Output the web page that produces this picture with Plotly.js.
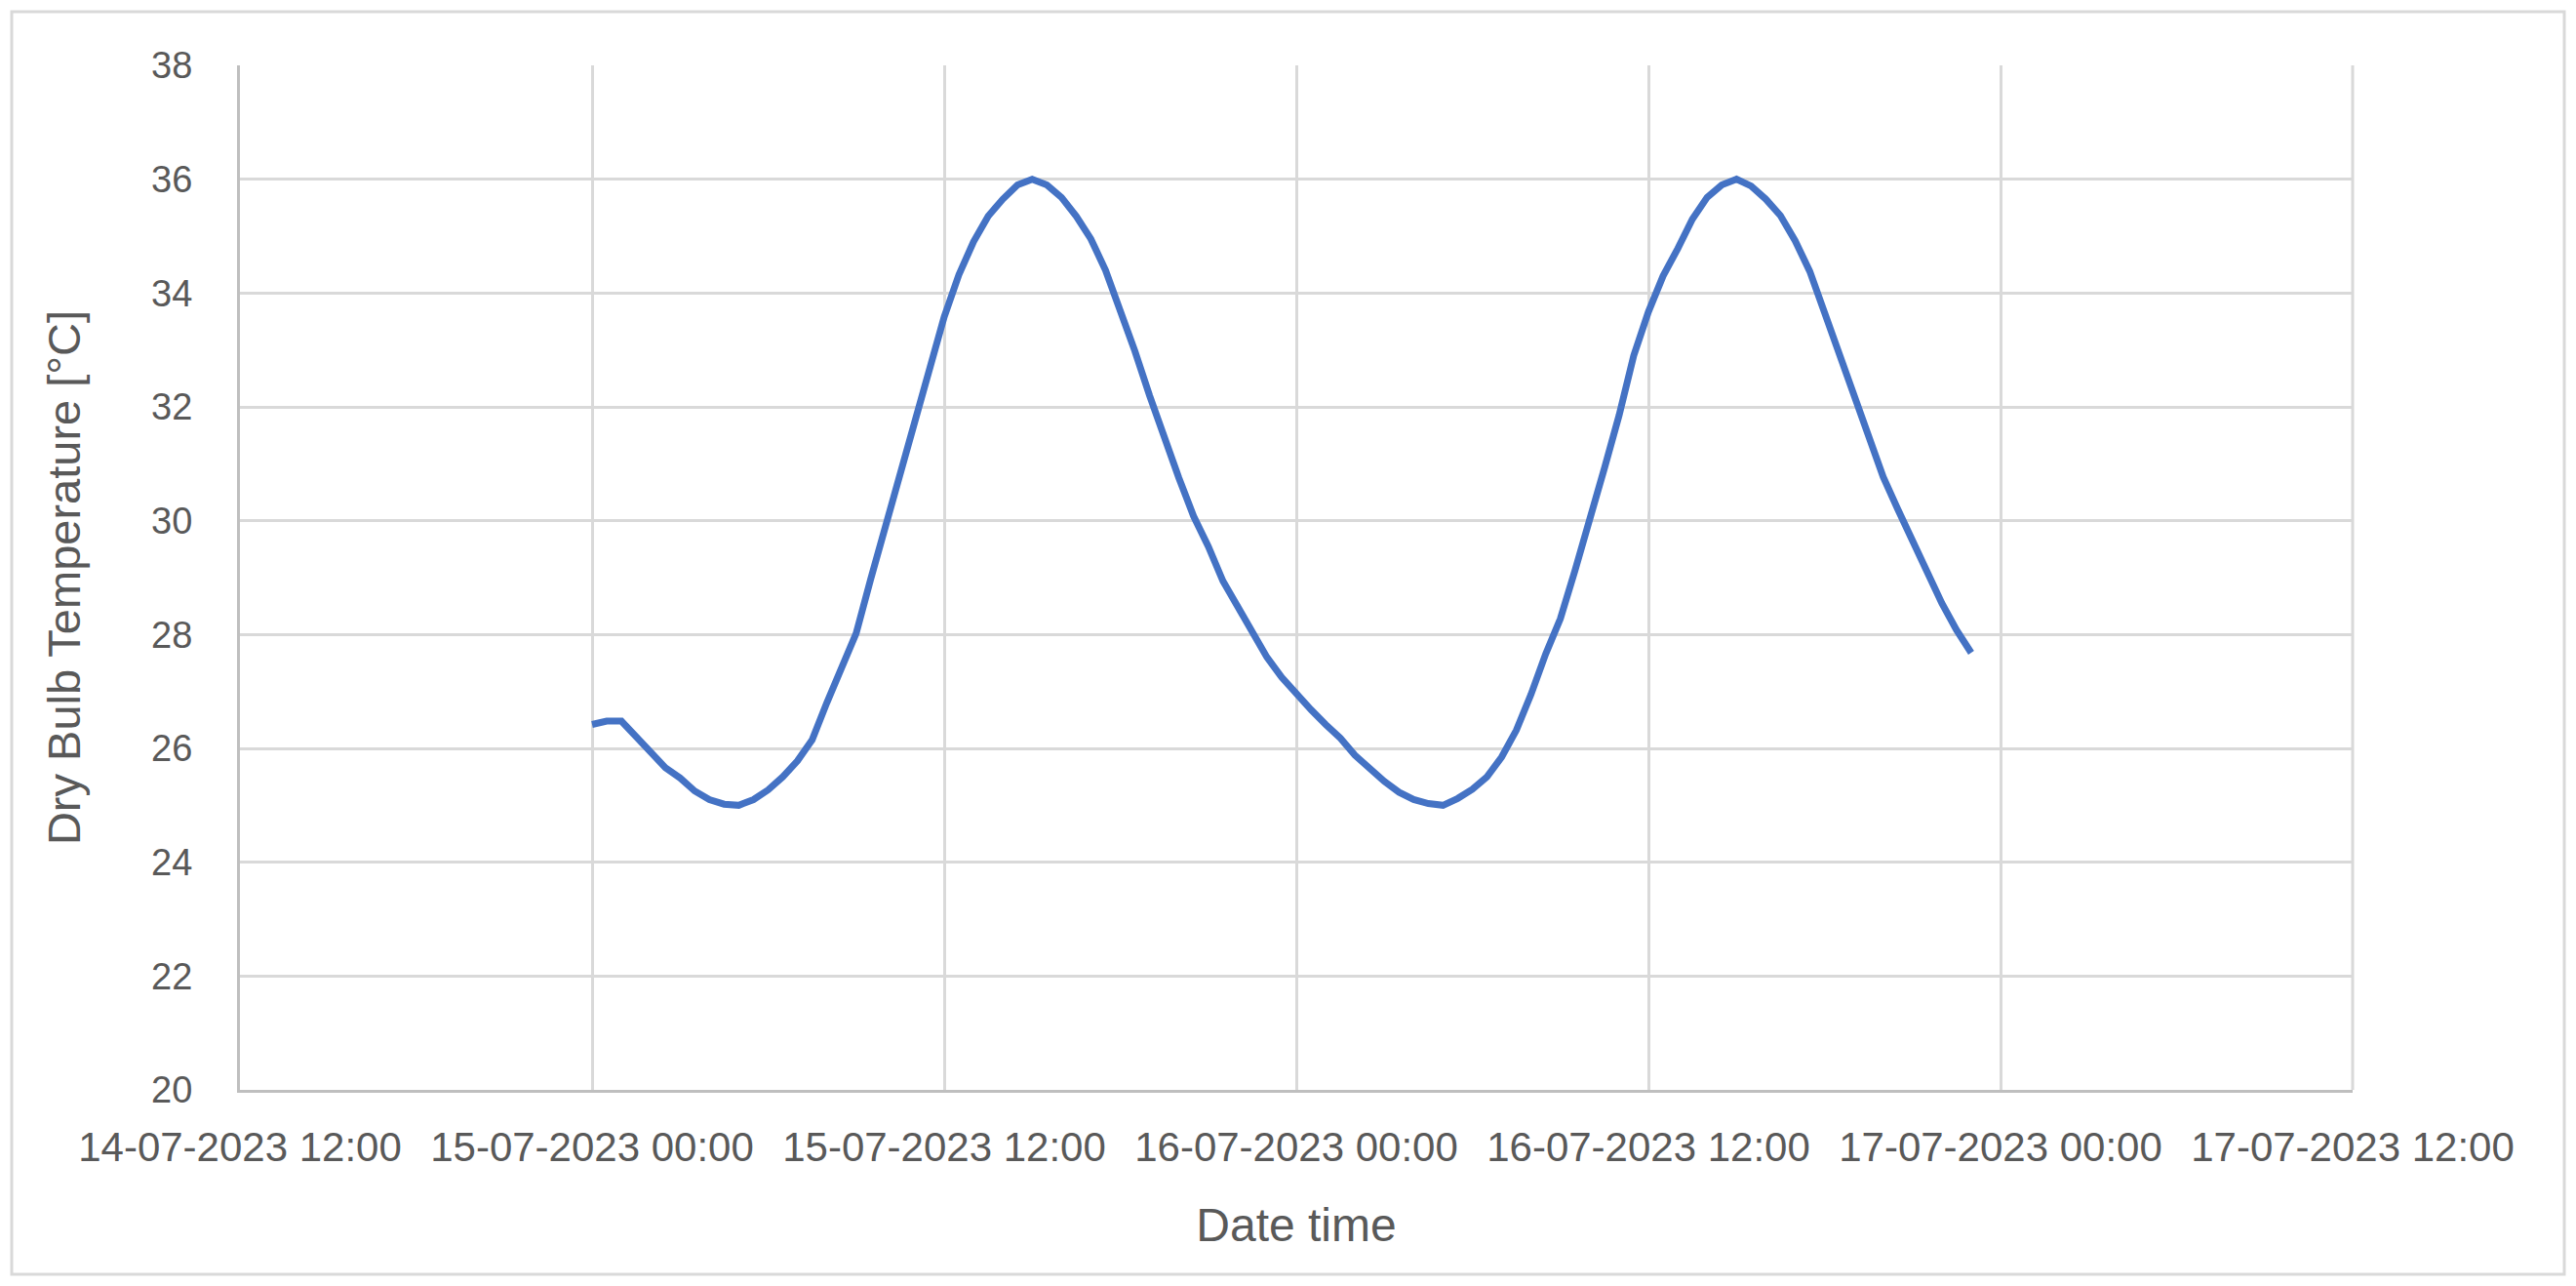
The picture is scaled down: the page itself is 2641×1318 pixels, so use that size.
<!DOCTYPE html>
<html>
<head>
<meta charset="utf-8">
<script src="https://cdn.plot.ly/plotly-3.0.1.min.js"></script>
<style>
  html, body { margin: 0; padding: 0; background: #ffffff; }
  #chart { width: 2641px; height: 1318px; }
</style>
</head>
<body>
<div id="chart"></div>
<script>
// Half-hourly readings starting 15-07-2023 00:00
const startTime = '2023-07-15T00:00:00';
const stepMinutes = 30;
const dryBulbTemp = [
  26.42, 26.48, 26.48, 26.20, 25.93, 25.66, 25.48, 25.25, 25.10, 25.02,
  25.00, 25.10, 25.27, 25.50, 25.78, 26.15, 26.80, 27.41, 28.02, 28.98,
  29.90, 30.88, 31.75, 32.68, 33.58, 34.32, 34.90, 35.35, 35.65, 35.90,
  36.00, 35.90, 35.68, 35.35, 34.95, 34.40, 33.70, 32.98, 32.20, 31.46,
  30.75, 30.08, 29.55, 28.94, 28.48, 28.00, 27.60, 27.25, 26.95, 26.68,
  26.42, 26.18, 25.88, 25.64, 25.42, 25.23, 25.10, 25.03, 25.00, 25.12,
  25.28, 25.50, 25.85, 26.32, 26.95, 27.66, 28.28, 29.13, 30.08, 30.92,
  31.85, 32.90, 33.67, 34.30, 34.78, 35.30, 35.68, 35.90, 36.00, 35.88,
  35.65, 35.36, 34.92, 34.38, 33.66, 32.95, 32.22, 31.50, 30.77, 30.20,
  29.65, 29.08, 28.55, 28.08, 27.68
];
const xRange = ['2023-07-14 12:00', '2023-07-17 12:00'];
const yRange = [20, 38];
const xTitle = 'Date time';
const yTitle = 'Dry Bulb Temperature [°C]';

function pad(n) { return (n < 10 ? '0' : '') + n; }
const t0 = new Date(startTime + 'Z').getTime();
const times = dryBulbTemp.map((_, i) => {
  const d = new Date(t0 + i * stepMinutes * 60000);
  return d.getUTCFullYear() + '-' + pad(d.getUTCMonth() + 1) + '-' + pad(d.getUTCDate()) +
    ' ' + pad(d.getUTCHours()) + ':' + pad(d.getUTCMinutes());
});

const W = 2641, H = 1318;
const L = 246, R = 229, T = 67, B = 201;
const pw = W - L - R, ph = H - T - B;
const px = (x) => (x - L) / pw;
const py = (y) => (H - B - y) / ph;

const fontFam = '"Liberation Sans", Arial, sans-serif';
const textColor = '#595959';

const trace = {
  x: times,
  y: dryBulbTemp,
  type: 'scatter',
  mode: 'lines',
  line: { color: '#4472C4', width: 7 },
  hoverinfo: 'x+y'
};

const layout = {
  width: W,
  height: H,
  margin: { l: L, r: R, t: T, b: B, pad: 0 },
  paper_bgcolor: '#ffffff',
  plot_bgcolor: '#ffffff',
  showlegend: false,
  font: { family: fontFam, color: textColor, size: 38 },
  xaxis: {
    type: 'date',
    range: xRange,
    dtick: 12 * 3600 * 1000,
    tick0: '2023-07-14 12:00',
    tickformat: '%d-%m-%Y %H:%M',
    showgrid: true,
    gridcolor: '#d9d9d9',
    gridwidth: 3,
    showline: true,
    linecolor: '#bfbfbf',
    linewidth: 3,
    ticks: '',
    ticklabelstandoff: 20,
    tickfont: { family: fontFam, size: 42, color: textColor },
    zeroline: false,
    automargin: false,
    title: { text: xTitle, font: { family: fontFam, size: 48, color: textColor }, standoff: 40 }
  },
  yaxis: {
    range: yRange,
    dtick: 2,
    tick0: 20,
    showgrid: true,
    gridcolor: '#d9d9d9',
    gridwidth: 3,
    showline: true,
    linecolor: '#bfbfbf',
    linewidth: 3,
    ticks: '',
    ticklabelstandoff: 38,
    tickfont: { family: fontFam, size: 38, color: textColor },
    zeroline: false,
    automargin: false,
    title: { text: yTitle, font: { family: fontFam, size: 47, color: textColor }, standoff: 58 }
  },
  shapes: [
    {
      type: 'rect', xref: 'paper', yref: 'paper', layer: 'below',
      x0: px(12), x1: px(2629), y0: py(1306), y1: py(12),
      line: { color: '#d9d9d9', width: 3 }, fillcolor: 'rgba(0,0,0,0)'
    },
    {
      type: 'line', xref: 'paper', yref: 'paper', layer: 'above',
      x0: 1, x1: 1, y0: 0, y1: 1,
      line: { color: '#d9d9d9', width: 3 }
    }
  ]
};

Plotly.newPlot('chart', [trace], layout, { displayModeBar: false, staticPlot: true });
</script>
</body>
</html>
